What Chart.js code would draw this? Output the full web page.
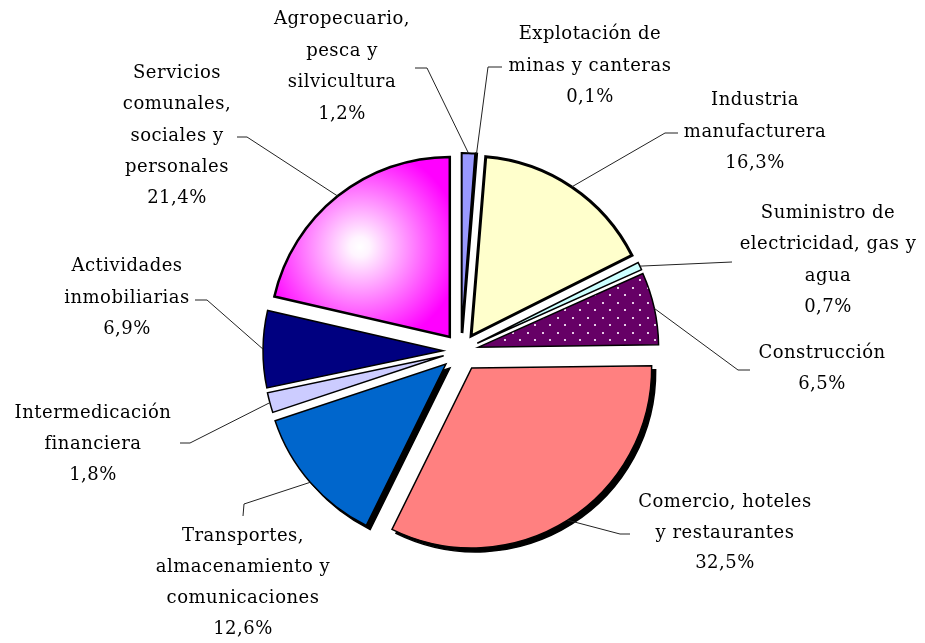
<!DOCTYPE html>
<html>
<head>
<meta charset="utf-8">
<script src="https://cdn.jsdelivr.net/npm/chart.js@4.4.0/dist/chart.umd.min.js"></script>
<style>
    html, body { margin: 0; padding: 0; background: #fff; }
    #wrap { width: 925px; height: 643px; }
</style>
</head>
<body>
<div id="wrap"><canvas id="pie" width="925" height="643"></canvas></div>
<script>
// Data
const sectors = [
    ['Agropecuario,', 'pesca y', 'silvicultura'],
    ['Explotación de', 'minas y canteras'],
    ['Industria', 'manufacturera'],
    ['Suministro de', 'electricidad, gas y', 'agua'],
    ['Construcción'],
    ['Comercio, hoteles', 'y restaurantes'],
    ['Transportes,', 'almacenamiento y', 'comunicaciones'],
    ['Intermedicación', 'financiera'],
    ['Actividades', 'inmobiliarias'],
    ['Servicios', 'comunales,', 'sociales y', 'personales']
];
const shares = [1.2, 0.1, 16.3, 0.7, 6.5, 32.5, 12.6, 1.8, 6.9, 21.4];

// Slice styles
const sliceColors = ['#9999FF', '#000000', '#FFFFCC', '#CCFFFF', 'dots', '#FF8080', '#0066CC', '#CCCCFF', '#000080', 'gradient'];
const borderWidths = [2, 2, 3, 1.5, 1.5, 1.5, 1.5, 1.5, 1.5, 2.5];
const explode = [18, 18, 18, 18, 18, 20, 20, 18, 18, 18];
const shadowed = [false, false, false, false, false, true, true, false, false, false];
const RADIUS = 180;

// Label placement: x centre, first baseline, line gap, leader points on the label side
const labelLayout = [
    { x: 342, y: 24, gap: 31.5, leader: [[415, 68], [427, 68]] },
    { x: 590, y: 39, gap: 31.5, leader: [[502, 67], [488, 67]] },
    { x: 755, y: 105, gap: 31.5, leader: [[678, 133], [665, 133]] },
    { x: 828, y: 218, gap: 31.3, leader: [[732, 262]] },
    { x: 822, y: 358, gap: 31, leader: [[750, 370], [738, 370]] },
    { x: 725, y: 507, gap: 30.5, leader: [[630, 534], [620, 534]] },
    { x: 243, y: 541, gap: 31, leader: [[243, 516], [244, 504]] },
    { x: 93, y: 418, gap: 31, leader: [[180, 443], [190, 443]] },
    { x: 127, y: 271, gap: 31.5, leader: [[195, 300], [207, 300]] },
    { x: 177, y: 78, gap: 31.3, leader: [[237, 137], [247, 137]] }
];

const total = shares.reduce((a, b) => a + b, 0);

function sliceMid(i) {
    const before = shares.slice(0, i).reduce((a, b) => a + b, 0);
    return -Math.PI / 2 + (before + shares[i] / 2) / total * 2 * Math.PI;
}

function formatShare(v) {
    return v.toFixed(1).replace('.', ',') + '%';
}

const canvas = document.getElementById('pie');
const ctx = canvas.getContext('2d');

// Purple with white dots (Construcción)
function dotPattern() {
    const tile = document.createElement('canvas');
    tile.width = 15;
    tile.height = 15;
    const t = tile.getContext('2d');
    t.fillStyle = '#660066';
    t.fillRect(0, 0, 15, 15);
    t.fillStyle = '#e6cce6';
    t.fillRect(2, 2, 2, 2);
    t.fillRect(9, 9, 2, 2);
    return ctx.createPattern(tile, 'repeat');
}
const dots = dotPattern();

function sliceFill(c) {
    const i = c.dataIndex;
    const col = sliceColors[i];
    if (col === 'dots') return dots;
    if (col === 'gradient') {
        const area = c.chart.chartArea;
        if (!area) return '#FF00FF';
        const mid = sliceMid(i);
        const ax = (area.left + area.right) / 2 + Math.cos(mid) * explode[i];
        const ay = (area.top + area.bottom) / 2 + Math.sin(mid) * explode[i];
        const gx = ax - RADIUS * 0.5;
        const gy = ay - RADIUS * 0.5;
        const g = c.chart.ctx.createRadialGradient(gx, gy, 0, gx, gy, RADIUS * 0.56);
        g.addColorStop(0, '#FFFFFF');
        g.addColorStop(0.1, '#FFF4FF');
        g.addColorStop(1, '#FF00FF');
        return g;
    }
    return col;
}

// Pull slices away from the centre and add the drop shadows
const explodePlugin = {
    id: 'explode',
    afterDatasetUpdate(chart, args) {
        const meta = chart.getDatasetMeta(args.index);
        meta.data.forEach((arc, i) => {
            const mid = (arc.startAngle + arc.endAngle) / 2;
            arc.x += Math.cos(mid) * explode[i];
            arc.y += Math.sin(mid) * explode[i];
        });
    },
    beforeDatasetDraw(chart, args) {
        const c = chart.ctx;
        args.meta.data.forEach((arc, i) => {
            if (shadowed[i]) {
                const own = arc.options;
                arc.options = Object.assign({}, own, { backgroundColor: '#000', borderColor: '#000' });
                c.save();
                c.translate(4, 4);
                arc.draw(c, chart.chartArea);
                c.restore();
                arc.options = own;
            }
            arc.draw(c, chart.chartArea);
        });
        return false;
    }
};

// Category labels with leader lines
const labelPlugin = {
    id: 'sectorLabels',
    afterDatasetsDraw(chart) {
        const c = chart.ctx;
        const arcs = chart.getDatasetMeta(0).data;
        c.save();
        c.strokeStyle = '#222';
        c.lineWidth = 1;
        arcs.forEach((arc, i) => {
            const mid = (arc.startAngle + arc.endAngle) / 2;
            const px = arc.x + Math.cos(mid) * arc.outerRadius;
            const py = arc.y + Math.sin(mid) * arc.outerRadius;
            const pts = labelLayout[i].leader;
            c.beginPath();
            c.moveTo(pts[0][0], pts[0][1]);
            pts.slice(1).forEach(p => c.lineTo(p[0], p[1]));
            c.lineTo(px, py);
            c.stroke();
        });

        c.font = '18px "DejaVu Serif"';
        c.letterSpacing = '0.5px';
        c.fillStyle = '#000';
        c.textAlign = 'center';
        c.textBaseline = 'alphabetic';
        sectors.forEach((lines, i) => {
            const lay = labelLayout[i];
            const all = lines.concat([formatShare(shares[i])]);
            all.forEach((txt, k) => {
                c.fillText(txt, lay.x, lay.y + k * lay.gap);
            });
        });
        c.restore();
    }
};

new Chart(ctx, {
    type: 'pie',
    data: {
        labels: sectors.map(s => s.join(' ')),
        datasets: [{
            data: shares,
            backgroundColor: sliceFill,
            borderColor: '#000',
            borderWidth: borderWidths,
            borderJoinStyle: 'miter'
        }]
    },
    options: {
        responsive: false,
        animation: false,
        radius: RADIUS,
        layout: { padding: { left: 0, right: 3, top: 59, bottom: 0 } },
        plugins: {
            legend: { display: false },
            tooltip: { enabled: false }
        }
    },
    plugins: [explodePlugin, labelPlugin]
});
</script>
</body>
</html>
